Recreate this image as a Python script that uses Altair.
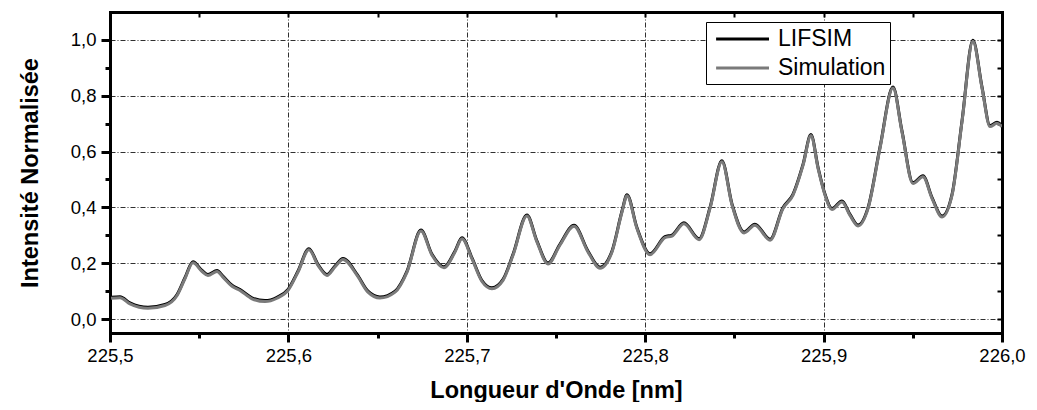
import altair as alt
import pandas as pd

# ---------------- data ----------------
wavelength = [
    225.5006, 225.5056, 225.5112, 225.5213, 225.5308, 225.5376, 225.5420, 225.5465,
    225.5516, 225.5549, 225.5600, 225.5633, 225.5684, 225.5729, 225.5796, 225.5869,
    225.5936, 225.5998, 225.6054, 225.6115, 225.6166, 225.6216, 225.6261, 225.6306,
    225.6385, 225.6446, 225.6513, 225.6598, 225.6665, 225.6743, 225.6805, 225.6872,
    225.6934, 225.6973, 225.7029, 225.7085, 225.7141, 225.7203, 225.7259, 225.7337,
    225.7393, 225.7455, 225.7522, 225.7601, 225.7679, 225.7747, 225.7814, 225.7870,
    225.7898, 225.7954, 225.8027, 225.8111, 225.8150, 225.8217, 225.8302, 225.8363,
    225.8430, 225.8487, 225.8554, 225.8615, 225.8700, 225.8772, 225.8828, 225.8885,
    225.8929, 225.8969, 225.9008, 225.9047, 225.9103, 225.9148, 225.9193, 225.9249,
    225.9316, 225.9389, 225.9439, 225.9501, 225.9557, 225.9608, 225.9664, 225.9720,
    225.9776, 225.9837, 225.9888, 225.9933, 225.9972, 226.0000,
]
lifsim = [
    0.078, 0.080, 0.058, 0.042, 0.052, 0.088, 0.148, 0.205,
    0.174, 0.160, 0.174, 0.154, 0.121, 0.106, 0.076, 0.066,
    0.078, 0.106, 0.172, 0.252, 0.196, 0.160, 0.190, 0.217,
    0.160, 0.100, 0.079, 0.100, 0.172, 0.319, 0.232, 0.187,
    0.244, 0.291, 0.219, 0.138, 0.112, 0.142, 0.232, 0.373,
    0.280, 0.201, 0.268, 0.336, 0.244, 0.186, 0.244, 0.387,
    0.445, 0.327, 0.234, 0.295, 0.301, 0.345, 0.288, 0.399,
    0.567, 0.411, 0.312, 0.340, 0.286, 0.399, 0.447, 0.555,
    0.661, 0.543, 0.447, 0.396, 0.423, 0.375, 0.337, 0.399,
    0.615, 0.831, 0.675, 0.489, 0.513, 0.435, 0.369, 0.447,
    0.711, 0.999, 0.831, 0.693, 0.705, 0.693,
]
simulation = [
    0.078, 0.080, 0.058, 0.042, 0.052, 0.088, 0.148, 0.205,
    0.174, 0.160, 0.174, 0.154, 0.121, 0.106, 0.076, 0.066,
    0.078, 0.106, 0.172, 0.252, 0.196, 0.160, 0.190, 0.217,
    0.160, 0.100, 0.079, 0.100, 0.172, 0.319, 0.232, 0.187,
    0.244, 0.291, 0.219, 0.138, 0.112, 0.142, 0.232, 0.373,
    0.280, 0.201, 0.268, 0.336, 0.244, 0.186, 0.244, 0.387,
    0.445, 0.327, 0.234, 0.295, 0.301, 0.345, 0.288, 0.399,
    0.567, 0.411, 0.312, 0.340, 0.286, 0.399, 0.447, 0.555,
    0.661, 0.543, 0.447, 0.396, 0.423, 0.375, 0.337, 0.399,
    0.615, 0.831, 0.675, 0.489, 0.513, 0.435, 0.369, 0.447,
    0.711, 0.999, 0.831, 0.693, 0.705, 0.693,
]
series_names = ["LIFSIM", "Simulation"]
x_major = [225.5, 225.6, 225.7, 225.8, 225.9, 226.0]
x_minor = [225.5, 225.55, 225.6, 225.65, 225.7, 225.75, 225.8, 225.85, 225.9, 225.95, 226.0]
y_major = [0.0, 0.2, 0.4, 0.6, 0.8, 1.0]
y_minor = [0.0, 0.1, 0.2, 0.3, 0.4, 0.5, 0.6, 0.7, 0.8, 0.9, 1.0]

n = len(wavelength)
df = pd.DataFrame({
    "wl": wavelength + wavelength,
    "val": lifsim + simulation,
    "serie": [series_names[0]] * n + [series_names[1]] * n,
})

W, H = 892, 321
FONT = "Liberation Sans"
label_expr = "replace(format(datum.value, '.1f'), '.', ',')"

xscale = alt.Scale(domain=[225.5, 226.0], nice=False, zero=False)
yscale = alt.Scale(domain=[-0.05, 1.10], nice=False, zero=False)

legend = alt.Legend(
    title=None, orient="none", legendX=596, legendY=10,
    symbolType="M-0.6,0H4", symbolSize=529, symbolStrokeWidth=3,
    labelFontSize=23, labelFont=FONT, labelColor="black", labelOffset=42,
    strokeColor="black", fillColor="white", padding=4, rowPadding=4,
)
color = alt.Color(
    "serie:N",
    scale=alt.Scale(domain=series_names, range=["#000000", "#7a7a7a"]),
    legend=legend,
)

grid_style = dict(grid=True, gridDash=[5, 2, 1, 2], gridColor="#303030", gridWidth=1)
frame_style = dict(domain=True, domainColor="black", domainWidth=3, domainCap="square")

x_main = alt.Axis(
    orient="bottom", values=x_major, labelExpr=label_expr, title="Longueur d'Onde [nm]",
    tickSize=9, tickWidth=3, tickColor="black",
    labelFont=FONT, labelFontSize=18.5, labelColor="black", labelPadding=4, labelFlush=False,
    titleFont=FONT, titleFontSize=23.5, titleFontWeight="bold", titleColor="black",
    titleY=57, titleBaseline="middle",
    **grid_style, **frame_style,
)
y_main = alt.Axis(
    orient="left", values=y_major, labelExpr=label_expr, title="Intensité Normalisée",
    tickSize=9, tickWidth=3, tickColor="black",
    labelFont=FONT, labelFontSize=18.5, labelColor="black", labelPadding=5,
    titleFont=FONT, titleFontSize=23.5, titleFontWeight="bold", titleColor="black",
    titleX=-80, titleBaseline="middle",
    **grid_style, **frame_style,
)
x_minor_ax = alt.Axis(orient="bottom", values=x_minor, labels=False, title=None, grid=False,
                      domain=False, tickSize=5, tickWidth=3, tickColor="black")
y_minor_ax = alt.Axis(orient="left", values=y_minor, labels=False, title=None, grid=False,
                      domain=False, tickSize=5, tickWidth=3, tickColor="black")
x_top_ax = alt.Axis(orient="bottom", offset=-H, values=x_minor, labels=False, title=None, grid=False,
                    tickSize=5, tickWidth=2, tickColor="black", **frame_style)
y_right_ax = alt.Axis(orient="left", offset=-W, values=y_minor, labels=False, title=None, grid=False,
                      tickSize=5, tickWidth=2, tickColor="black", **frame_style)

base = alt.Chart(df)

black_line = base.transform_filter(alt.datum.serie == series_names[0]).mark_line(
    strokeWidth=3, interpolate="monotone", clip=True
).encode(
    x=alt.X("wl:Q", scale=xscale, axis=x_main),
    y=alt.Y("val:Q", scale=yscale, axis=y_main),
    color=color,
)

gray_line = base.transform_filter(alt.datum.serie == series_names[1]).mark_line(
    strokeWidth=3, interpolate="monotone", clip=True, yOffset=1
).encode(
    x=alt.X("wl:Q", scale=xscale, axis=x_minor_ax),
    y=alt.Y("val:Q", scale=yscale, axis=y_minor_ax),
    color=color,
)

frame_ticks = base.transform_filter(alt.datum.serie == series_names[0]).mark_point(opacity=0).encode(
    x=alt.X("wl:Q", scale=xscale, axis=x_top_ax),
    y=alt.Y("val:Q", scale=yscale, axis=y_right_ax),
)

chart = alt.layer(black_line, gray_line, frame_ticks).resolve_axis(
    x="independent", y="independent"
).properties(
    width=W, height=H,
    padding={"left": 102, "top": 4, "right": 27, "bottom": 69},
    autosize=alt.AutoSizeParams(type="none"),
).configure_view(strokeWidth=0).configure(background="white")

chart.save("out.html", embed_options={"renderer": "svg", "actions": False})
